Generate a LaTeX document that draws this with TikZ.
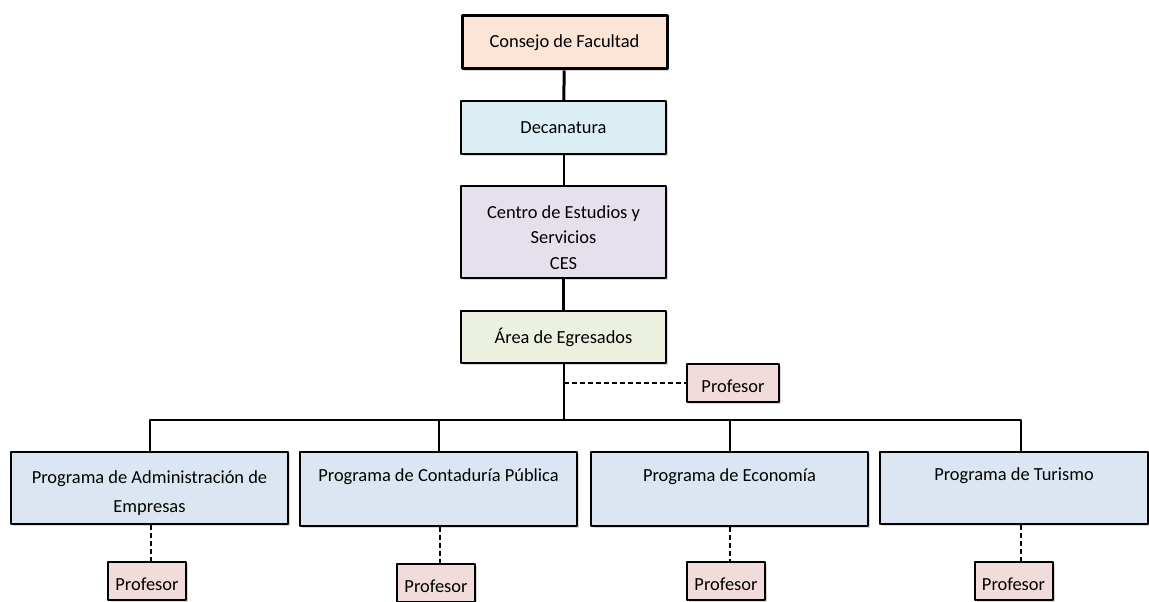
\documentclass[tikz,border=0pt]{standalone}
\usepackage{fontspec}
\setmainfont{Carlito}
\usetikzlibrary{shadows}
\definecolor{consejofill}{HTML}{FCE4D6}
\definecolor{decanfill}{HTML}{DAEEF3}
\definecolor{cesfill}{HTML}{E5E0EC}
\definecolor{egresfill}{HTML}{EBF1DE}
\definecolor{proffill}{HTML}{F2DCDB}
\definecolor{progfill}{HTML}{DCE6F2}
\newcommand{\topgap}[1]{\rule{0pt}{#1}}
\begin{document}
\begin{tikzpicture}[x=1bp,y=-1bp,line join=bevel,
  unit/.style={draw=black,line width=2bp,inner sep=0pt,align=center,
    font=\fontsize{18.5}{22}\selectfont,
    drop shadow={shadow xshift=2bp,shadow yshift=-2bp,opacity=0.3}},
  prog/.style={unit,fill=progfill,minimum height=72bp,font=\fontsize{18.5}{30}\selectfont},
  prof/.style={unit,fill=proffill,minimum width=78bp,minimum height=38bp},
  conn/.style={draw=black,line width=2bp},
  dconn/.style={conn,dash pattern=on 5bp off 3bp},
]
\clip (0,0) rectangle (1149,602);
%%
\node (consejo) at (564.5,42.5) [unit,fill=consejofill,line width=3bp,minimum width=205bp,minimum height=53bp] {Consejo de Facultad};
  \node (decan) at (563.5,127.5) [unit,fill=decanfill,minimum width=205bp,minimum height=53bp] {Decanatura};
  \node (ces) at (563.5,232) [unit,fill=cesfill,minimum width=205bp,minimum height=92bp,font=\fontsize{18.5}{25.5}\selectfont] {\topgap{24bp}Centro de Estudios y\\Servicios\\CES};
  \node (egres) at (563.5,337) [unit,fill=egresfill,minimum width=205bp,minimum height=52bp] {Área de Egresados};
  \node (profa) at (733,383) [prof,minimum width=92bp] {\topgap{19bp}Profesor};
  \node (prog1) at (149.5,487.5) [prog,minimum width=277bp] {\topgap{24bp}Programa de Administración de\\Empresas};
  \node (prog2) at (438.5,489) [prog,minimum width=277bp,minimum height=74bp] {\topgap{24bp}Programa de Contaduría Pública\\\strut};
  \node (prog3) at (729.5,489) [prog,minimum width=277bp,minimum height=74bp] {\topgap{24bp}Programa de Economía\\\strut};
  \node (prog4) at (1014,487.5) [prog,minimum width=268bp] {\topgap{24bp}Programa de Turismo\\\strut};
  \node (profb1) at (147,581) [prof] {\topgap{20bp}Profesor};
  \node (profb2) at (436,583) [prof] {\topgap{20bp}Profesor};
  \node (profb3) at (726,581) [prof] {\topgap{20bp}Profesor};
  \node (profb4) at (1013.5,581) [prof] {\topgap{20bp}Profesor};
  \coordinate (bus) at (565,420);
  \draw [conn,line width=3bp] (consejo) -- (decan);
  \draw [conn] (decan) -- (ces);
  \draw [conn,line width=3bp] (ces) -- (egres);
  \draw [conn] (egres.south) -- (egres.south |- bus);
  \draw [conn] (prog1.north) |- (bus) -| ([xshift=7bp]prog4.north);
  \draw [conn] (prog2.north) -- (prog2.north |- bus);
  \draw [conn] (prog3.north) -- (prog3.north |- bus);
  \draw [dconn] (egres.south |- profa.west) -- (profa.west);
  \draw [dconn] ([xshift=1bp]prog1.south) -- ([xshift=1bp]prog1.south |- profb1.north);
  \draw [dconn] ([xshift=1bp]prog2.south) -- ([xshift=1bp]prog2.south |- profb2.north);
  \draw [dconn] (prog3.south) -- (prog3.south |- profb3.north);
  \draw [dconn] ([xshift=7bp]prog4.south) -- ([xshift=7bp]prog4.south |- profb4.north);
%
\end{tikzpicture}
\end{document}
